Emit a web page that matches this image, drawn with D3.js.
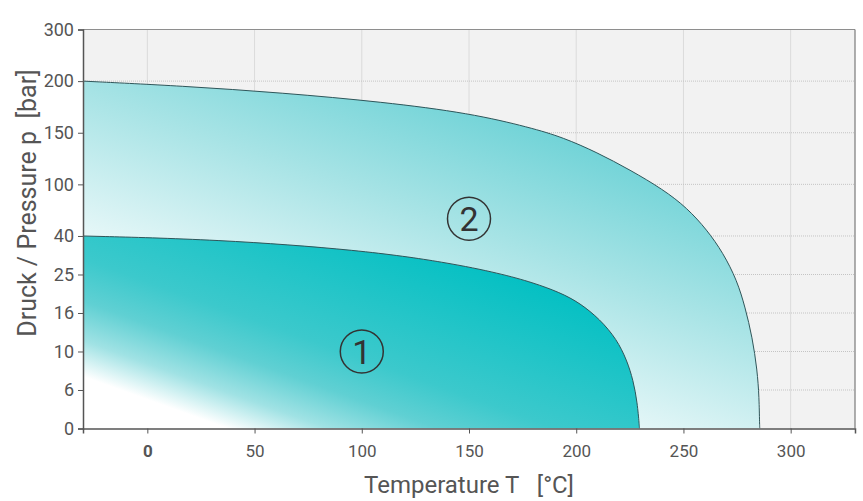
<!DOCTYPE html>
<html><head><meta charset="utf-8">
<script src="https://cdn.jsdelivr.net/npm/d3@7"></script>
<style>
body{margin:0;background:#fff}
svg{display:block}
text{font-family:Roboto,"Noto Sans",sans-serif}
</style>
</head><body>
<svg id="chart" width="863" height="501"></svg>
<script>
// ---- data ----
const xDomain = [-30, 330];
const xTicks = [0, 50, 100, 150, 200, 250, 300];
const yTicks = [0, 6, 10, 16, 25, 40, 100, 150, 200, 300];
const zone1T = [-30, 32, 100, 139.7, 164.5, 179.8, 192.4, 201.8, 211.1, 218.9, 223.6, 226.6, 228.5, 229.4, 229.5];
const zone1P = [40, 38.7, 34.5, 29.7, 25.4, 23.1, 20.8, 18.3, 15.0, 11.9, 9.1, 7.0, 4.0, 0.5, 0];
const zone2T = [-30, 16.4, 63.2, 109.9, 150.5, 178.5, 193.9, 209.7, 225.1, 240.5, 251.7, 261, 268.5, 275, 278.8, 282.1, 284.4, 285.3, 285.5, 285.6];
const zone2P = [200, 195.3, 188.6, 179.8, 168.9, 155.1, 145.4, 130.9, 114, 94.1, 72.6, 47, 33.4, 23.6, 17.3, 12.2, 8.1, 4.8, 0.5, 0];
const zoneNames = ["1", "2"];
const zoneLabelT = [100, 150];
const zoneLabelP = [10, 60];
const xTitle = "Temperature T   [°C]";
const yTitle = "Druck / Pressure p  [bar]";

(function () {
// ---- layout ----
const pL = 83, pR = 855, pT = 29.5, pB = 428.5;
const lowerShare = 0.4825; // part of the height used by 0..40 bar
const nLow = 5, nUp = yTicks.length - 1 - nLow;
const hgt = pB - pT;
const yRange = yTicks.map((d, i) => i <= nLow
  ? pB - i * hgt * lowerShare / nLow
  : pB - hgt * lowerShare - (i - nLow) * hgt * (1 - lowerShare) / nUp);

const x = d3.scaleLinear().domain(xDomain).range([pL, pR]);
const y = d3.scaleLinear().domain(yTicks).range(yRange);

const svg = d3.select("#chart");
const defs = svg.append("defs");
defs.append("clipPath").attr("id", "plotclip").append("rect")
  .attr("x", pL).attr("y", pT).attr("width", pR - pL).attr("height", pB - pT);

function grad(id, L, stops) {
  const g = defs.append("linearGradient").attr("id", id)
    .attr("gradientUnits", "userSpaceOnUse")
    .attr("x1", x(xDomain[0])).attr("y1", y(0))
    .attr("x2", x(xDomain[0]) + 0.337 * L).attr("y2", y(0) - 0.941 * L);
  stops.forEach(([o, c]) => g.append("stop").attr("offset", o).attr("stop-color", c));
}
grad("g1", 350, [[0, "#ffffff"], [0.14, "#ffffff"], [0.237, "#a0e2e4"], [0.343, "#60d0d3"],
                 [0.457, "#3cc9cc"], [0.83, "#04c0c3"], [1, "#00bcc0"]]);
grad("g2", 440, [[0, "#ffffff"], [0.36, "#f2fbfb"], [0.43, "#e3f6f7"], [0.73, "#a6e3e5"], [1, "#70d3d7"]]);

// background
svg.append("rect").attr("x", pL).attr("y", pT).attr("width", pR - pL).attr("height", pB - pT)
  .attr("fill", "#f2f2f2");

// grid
const grid = svg.append("g").attr("stroke", "#c4c4c4").attr("stroke-width", 1).attr("stroke-dasharray", "1,1");
grid.selectAll(".vx").data(xTicks).join("line")
  .attr("x1", d => x(d)).attr("x2", d => x(d)).attr("y1", pT).attr("y2", pB);
grid.selectAll(".hy").data(yTicks.slice(1, -1)).join("line")
  .attr("y1", d => y(d)).attr("y2", d => y(d)).attr("x1", pL).attr("x2", pR);

// zones
const pts2 = zone2T.map((t, i) => ({T: t, p: zone2P[i]}));
const pts1 = zone1T.map((t, i) => ({T: t, p: zone1P[i]}));
const crv = d3.curveBasis;
const area = d3.area().x(d => x(d.T)).y0(y(0)).y1(d => y(d.p)).curve(crv);
const line = d3.line().x(d => x(d.T)).y(d => y(d.p)).curve(crv);
const pg = svg.append("g").attr("clip-path", "url(#plotclip)");
pg.append("path").attr("d", area(pts2)).attr("fill", "url(#g2)");
pg.append("path").attr("d", line(pts2)).attr("fill", "none").attr("stroke", "#2f5559").attr("stroke-width", 1);
pg.append("path").attr("d", area(pts1)).attr("fill", "url(#g1)");
pg.append("path").attr("d", line(pts1)).attr("fill", "none").attr("stroke", "#2f5559").attr("stroke-width", 1);

// borders top/right
svg.append("line").attr("x1", pL).attr("x2", pR).attr("y1", pT).attr("y2", pT)
  .attr("stroke", "#8e8e8e").attr("stroke-width", 1);
svg.append("line").attr("x1", pR).attr("x2", pR).attr("y1", pT).attr("y2", pB)
  .attr("stroke", "#7a7a7a").attr("stroke-width", 1.2);

// zone labels
const zl = svg.append("g");
zoneNames.forEach((n, i) => {
  const cx = x(zoneLabelT[i]), cy = y(zoneLabelP[i]);
  zl.append("circle").attr("cx", cx).attr("cy", cy).attr("r", 21.5)
    .attr("fill", "none").attr("stroke", "#333").attr("stroke-width", 1.5);
  zl.append("text").attr("x", cx).attr("y", cy).attr("dy", "0.355em")
    .attr("text-anchor", "middle").attr("font-size", 34).attr("fill", "#333").text(n);
});

// axes
const xAxis = svg.append("g").attr("transform", `translate(0,${pB})`)
  .call(d3.axisBottom(x).tickValues(xTicks).tickSize(5).tickSizeOuter(5).tickPadding(11));
const yAxis = svg.append("g").attr("transform", `translate(${pL},0)`)
  .call(d3.axisLeft(y).tickValues(yTicks).tickSize(5).tickSizeOuter(5).tickPadding(4));
[xAxis, yAxis].forEach(a => {
  a.select(".domain").attr("stroke", "#555").attr("stroke-width", 1.5);
  a.selectAll(".tick line").attr("stroke", "#555");
  a.selectAll(".tick text").attr("fill", "#555").attr("font-family", "Roboto");
});
xAxis.selectAll(".tick text").attr("font-size", 17);
yAxis.selectAll(".tick text").attr("font-size", 18);
xAxis.selectAll(".tick text").filter(d => d === 0).attr("font-weight", "bold");

// titles
svg.append("text").attr("x", (pL + pR) / 2).attr("y", 493).attr("text-anchor", "middle")
  .attr("font-size", 24).attr("fill", "#555").style("white-space", "pre").text(xTitle);
svg.append("text").attr("transform", "translate(36,203) rotate(-90)").attr("text-anchor", "middle")
  .attr("font-size", 25).attr("fill", "#555").style("white-space", "pre").text(yTitle);
})();
</script>
</body></html>
